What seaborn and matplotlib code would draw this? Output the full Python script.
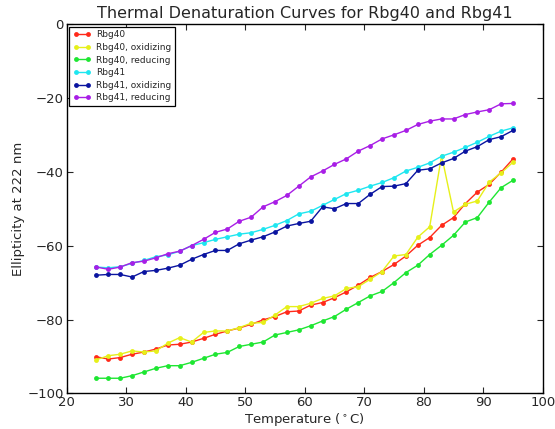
import numpy as np
import pandas as pd
import matplotlib
matplotlib.use("Agg")
import matplotlib.pyplot as plt
import seaborn as sns

# Temperatures (deg C), measured every 2 degrees
temps = list(range(25, 96, 2))

rbg40 = [-90.1, -90.7, -90.3, -89.4, -88.8, -88.0, -86.9, -86.7, -86.1, -85.1, -84.0, -83.1, -82.3,
         -81.3, -80.1, -79.2, -77.9, -77.7, -76.1, -75.4, -74.1, -72.5, -70.7, -68.6, -67.0, -65.1,
         -62.8, -59.9, -57.8, -54.5, -52.4, -48.6, -45.5, -43.4, -40.1, -36.5]
rbg40_ox = [-90.9, -89.8, -89.4, -88.5, -88.8, -88.5, -86.4, -84.9, -86.1, -83.5, -83.1, -83.1, -82.2,
            -81.0, -80.8, -78.8, -76.5, -76.5, -75.6, -74.3, -73.6, -71.6, -71.1, -69.1, -67.0, -62.8,
            -62.4, -57.7, -54.9, -35.6, -50.9, -48.8, -47.9, -42.8, -40.3, -37.4]
rbg40_red = [-95.9, -95.9, -95.9, -95.2, -94.2, -93.2, -92.5, -92.5, -91.6, -90.5, -89.4, -88.9, -87.3,
             -86.7, -86.1, -84.2, -83.5, -82.8, -81.7, -80.4, -79.2, -77.2, -75.4, -73.6, -72.4, -70.0,
             -67.3, -65.3, -62.4, -59.9, -57.2, -53.6, -52.4, -48.2, -44.3, -42.3]
rbg41 = [-65.8, -66.0, -65.7, -64.8, -64.0, -63.0, -62.5, -61.5, -60.0, -59.2, -58.3, -57.6, -56.9,
         -56.5, -55.6, -54.5, -53.2, -51.4, -50.7, -49.1, -47.5, -45.9, -45.0, -43.9, -42.9, -41.6,
         -39.8, -38.8, -37.6, -35.8, -34.7, -33.4, -32.0, -30.4, -29.0, -28.1]
rbg41_ox = [-68.0, -67.8, -67.8, -68.5, -67.0, -66.7, -66.1, -65.3, -63.7, -62.4, -61.3, -61.3, -59.5,
            -58.5, -57.6, -56.3, -54.7, -54.0, -53.4, -49.5, -50.0, -48.6, -48.6, -46.1, -44.0, -43.9,
            -43.2, -39.6, -39.2, -37.6, -36.4, -34.4, -33.2, -31.3, -30.5, -28.8]
rbg41_red = [-65.8, -66.4, -65.8, -64.6, -64.2, -63.3, -62.2, -61.5, -60.0, -58.3, -56.4, -55.5, -53.4,
             -52.3, -49.5, -48.1, -46.4, -43.9, -41.4, -39.8, -38.0, -36.5, -34.4, -32.9, -31.1, -30.0,
             -28.8, -27.2, -26.3, -25.7, -25.7, -24.5, -23.8, -23.2, -21.6, -21.5]

labels = ["Rbg40", "Rbg40, oxidizing", "Rbg40, reducing",
          "Rbg41", "Rbg41, oxidizing", "Rbg41, reducing"]
series = [rbg40, rbg40_ox, rbg40_red, rbg41, rbg41_ox, rbg41_red]
colors = ["#ff2a1a", "#e6f01a", "#1ee632", "#1ee6f0", "#0a14a0", "#a81ee6"]

sns.set_style("ticks")
plt.rcParams["font.family"] = ["DejaVu Sans"]

fig = plt.figure(figsize=(5.55, 4.29), dpi=100)
ax = fig.add_axes([0.120, 0.083, 0.858, 0.861])

for vals, lab, col in zip(series, labels, colors):
    sns.lineplot(x=temps, y=vals, ax=ax, color=col, label=lab, marker="o",
                 markersize=3.5, markeredgewidth=0, linewidth=1.0)

ax.set_xlim(20, 100)
ax.set_ylim(-100, 0)
ax.set_xticks(np.arange(20, 101, 10))
ax.set_yticks(np.arange(-100, 1, 20))
ax.tick_params(direction="in", top=True, right=True, labelsize=9.5, length=4,
               width=0.8, pad=2)
for sp in ax.spines.values():
    sp.set_visible(True)
    sp.set_color("black")
    sp.set_linewidth(1.0)

ax.set_title("Thermal Denaturation Curves for Rbg40 and Rbg41", fontsize=11.5, pad=4)
ax.set_xlabel("Temperature ($^\\circ$C)", fontsize=9.5, labelpad=1)
ax.set_ylabel("Ellipticity at 222 nm", fontsize=9.5, labelpad=2)

leg = ax.legend(loc="upper left", fontsize=6.5, fancybox=False, framealpha=1,
                edgecolor="black", borderaxespad=0.3, handlelength=2.0,
                labelspacing=0.4, borderpad=0.4, numpoints=2, handletextpad=0.6)
leg.get_frame().set_linewidth(0.9)

fig.savefig("out.png", dpi=100)
